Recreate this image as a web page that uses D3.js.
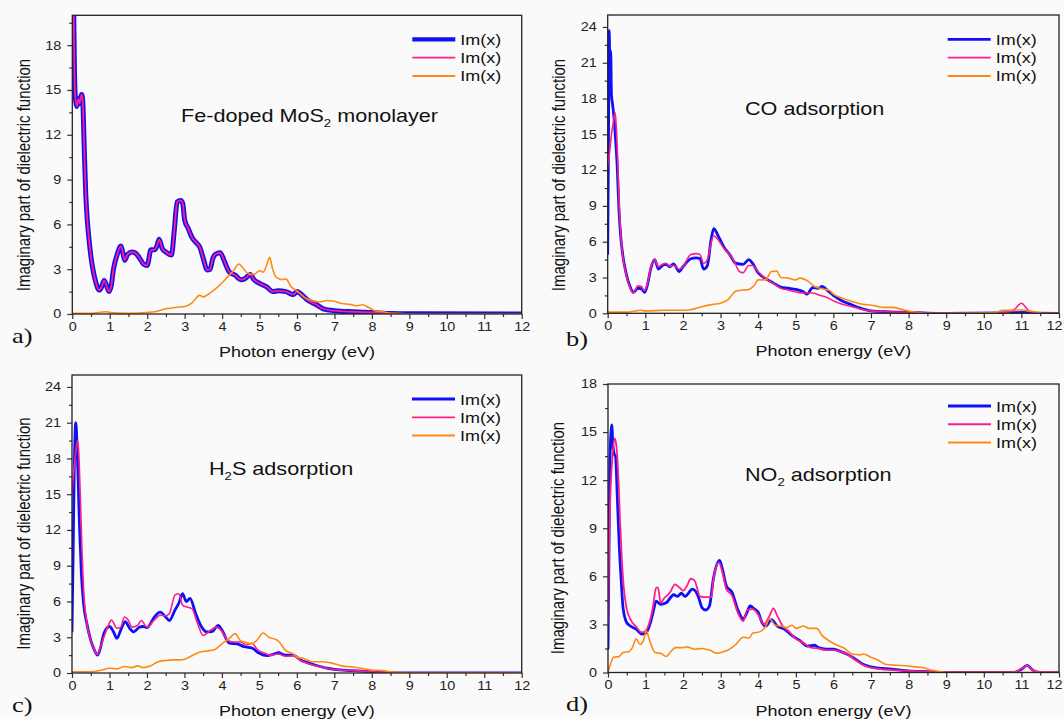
<!DOCTYPE html>
<html><head><meta charset="utf-8">
<script src="https://cdn.jsdelivr.net/npm/d3@7"></script>
<style>
html,body{margin:0;padding:0;background:#fafafa;}
svg{display:block;font-family:Arial,"Liberation Sans",sans-serif;}
</style></head>
<body><svg id="c" width="1064" height="719"></svg>
<script>
// ---- data ----
const xTickValues = [0,1,2,3,4,5,6,7,8,9,10,11,12];
const yTicksA = [0,3,6,9,12,15,18];
const yTicksB = [0,3,6,9,12,15,18,21,24];
const yTicksC = [0,3,6,9,12,15,18,21,24];
const yTicksD = [0,3,6,9,12,15,18];
const legendLabels = ["Im(x)","Im(x)","Im(x)"];
const panelLetters = ["a)","b)","c)","d)"];
const xTitle = "Photon energy (eV)";
const yTitle = "Imaginary part of dielectric function";

const aBlue = [[0,30],[0.03,22],[0.07,15],[0.12,13.9],[0.16,14.4],[0.19,14.1],[0.25,14.7],[0.28,14.2],[0.32,11],[0.36,8],[0.4,6.3],[0.45,4.9],[0.5,3.8],[0.55,3.0],[0.62,2.2],[0.72,1.6],[0.78,1.8],[0.85,2.25],[0.9,2.0],[0.98,1.5],[1.04,1.9],[1.1,3.0],[1.2,4.0],[1.3,4.55],[1.35,4.1],[1.4,3.6],[1.48,4.0],[1.6,4.15],[1.7,4.05],[1.78,3.8],[1.9,3.35],[2.0,3.25],[2.1,4.3],[2.2,4.3],[2.25,4.5],[2.32,5.0],[2.4,4.4],[2.5,4.15],[2.65,3.95],[2.72,5.5],[2.8,7.5],[2.9,7.6],[2.95,7.4],[3.0,6.3],[3.1,5.7],[3.2,5.1],[3.3,4.8],[3.4,4.5],[3.5,3.7],[3.6,2.95],[3.68,3.0],[3.75,3.7],[3.82,4.0],[3.95,4.1],[4.05,3.6],[4.15,3.0],[4.2,2.8],[4.35,2.6],[4.5,2.3],[4.6,2.35],[4.75,2.65],[4.85,2.3],[5.0,2.05],[5.2,1.8],[5.35,1.5],[5.5,1.55],[5.7,1.5],[5.9,1.3],[6.0,1.5],[6.1,1.35],[6.3,0.9],[6.5,0.65],[6.7,0.35],[7.0,0.22],[7.5,0.15],[8.0,0.1],[8.5,0.03],[9.0,0.01],[12,0]];
const aPink = [[0,30],[0.03,22],[0.07,15],[0.12,13.9],[0.16,14.4],[0.19,14.1],[0.25,14.7],[0.28,14.2],[0.32,11],[0.36,8],[0.4,6.3],[0.45,4.9],[0.5,3.8],[0.55,3.0],[0.62,2.2],[0.72,1.6],[0.78,1.8],[0.85,2.25],[0.9,2.0],[0.98,1.5],[1.04,1.9],[1.1,3.0],[1.2,4.0],[1.3,4.55],[1.35,4.1],[1.4,3.6],[1.48,4.0],[1.6,4.15],[1.7,4.05],[1.78,3.8],[1.9,3.35],[2.0,3.25],[2.1,4.3],[2.2,4.3],[2.25,4.5],[2.32,5.0],[2.4,4.4],[2.5,4.15],[2.65,3.95],[2.72,5.5],[2.8,7.5],[2.9,7.6],[2.95,7.4],[3.0,6.3],[3.1,5.7],[3.2,5.1],[3.3,4.8],[3.4,4.5],[3.5,3.7],[3.6,2.95],[3.68,3.0],[3.75,3.7],[3.82,4.0],[3.95,4.1],[4.05,3.6],[4.15,3.0],[4.2,2.8],[4.35,2.6],[4.5,2.3],[4.6,2.35],[4.75,2.65],[4.85,2.3],[5.0,2.05],[5.2,1.8],[5.35,1.5],[5.5,1.55],[5.7,1.5],[5.9,1.3],[6.0,1.5],[6.1,1.35],[6.3,0.9],[6.5,0.65],[6.7,0.35],[7.0,0.22],[7.5,0.15],[8.0,0.1],[8.5,0.03],[9.0,0.01],[12,0]];
const aOrange = [[0,0.05],[0.5,0.05],[0.9,0.15],[1.0,0.1],[1.5,0.05],[2.0,0.1],[2.2,0.15],[2.5,0.35],[2.8,0.45],[3.0,0.5],[3.2,0.75],[3.4,1.25],[3.5,1.15],[3.7,1.45],[3.9,1.85],[4.1,2.35],[4.3,2.9],[4.45,3.35],[4.55,3.1],[4.7,2.7],[4.85,2.65],[5.0,2.9],[5.1,2.8],[5.2,3.35],[5.27,3.8],[5.35,3.0],[5.45,2.45],[5.6,2.3],[5.7,2.35],[5.85,1.8],[6.0,1.55],[6.2,1.1],[6.4,0.9],[6.6,0.8],[6.8,0.9],[7.0,0.85],[7.2,0.7],[7.4,0.65],[7.6,0.55],[7.75,0.62],[7.9,0.45],[8.1,0.2],[8.3,0.15],[8.5,0.05],[8.8,0.03],[9.0,0],[12,0]];

const bBlue = [[0,5],[0.02,14],[0.04,23.7],[0.06,20.5],[0.08,22],[0.1,18.3],[0.13,17.5],[0.17,16.3],[0.2,15],[0.25,12.5],[0.3,8.6],[0.35,6.3],[0.4,4.9],[0.5,3.2],[0.6,2.2],[0.68,1.75],[0.8,2.1],[0.9,2.05],[0.98,1.75],[1.05,2.3],[1.15,3.8],[1.25,4.5],[1.35,3.7],[1.45,4.0],[1.55,4.1],[1.65,3.9],[1.75,4.15],[1.9,3.5],[2.0,3.9],[2.2,4.55],[2.35,4.65],[2.45,4.6],[2.55,3.7],[2.65,4.0],[2.75,6.2],[2.82,7.1],[2.95,6.4],[3.1,5.5],[3.25,4.9],[3.4,4.2],[3.6,4.1],[3.75,4.5],[3.85,4.2],[4.0,3.4],[4.2,2.9],[4.4,2.55],[4.6,2.2],[4.8,2.1],[5.0,2.0],[5.2,1.8],[5.3,1.6],[5.45,2.15],[5.6,2.1],[5.7,2.25],[5.85,1.9],[6.0,1.5],[6.2,1.1],[6.5,0.7],[6.8,0.35],[7.0,0.2],[7.5,0.12],[8.0,0.08],[8.5,0.02],[9,0],[10.5,0.03],[10.8,0.05],[11.0,0.08],[11.3,0.02],[12,0]];
const bPink = [[0,12.3],[0.05,13.5],[0.1,15],[0.15,16],[0.2,16.8],[0.23,15.5],[0.27,12.5],[0.3,9.5],[0.35,6.5],[0.4,4.8],[0.5,3.1],[0.6,2.1],[0.68,1.7],[0.8,2.3],[0.9,2.25],[0.97,1.9],[1.05,2.4],[1.15,3.9],[1.25,4.5],[1.35,3.9],[1.45,4.1],[1.55,4.2],[1.65,3.95],[1.75,4.0],[1.9,3.7],[2.0,3.9],[2.2,4.9],[2.35,5.0],[2.45,4.95],[2.55,4.2],[2.65,4.5],[2.75,5.9],[2.82,6.5],[2.95,6.1],[3.1,5.4],[3.25,4.9],[3.4,4.1],[3.5,3.5],[3.6,3.4],[3.75,4.0],[3.85,4.0],[4.0,3.5],[4.2,2.9],[4.4,2.5],[4.6,2.1],[4.8,1.95],[5.0,1.8],[5.2,1.7],[5.45,1.7],[5.6,1.55],[5.85,1.3],[6.0,1.05],[6.2,0.8],[6.5,0.55],[6.8,0.3],[7.0,0.2],[7.5,0.12],[8.0,0.08],[8.5,0.02],[9,0],[10.5,0.05],[10.8,0.3],[11.0,0.84],[11.2,0.2],[11.4,0.02],[12,0]];
const bOrange = [[0,0.1],[0.5,0.1],[0.9,0.25],[1.0,0.2],[1.5,0.25],[2.0,0.25],[2.2,0.3],[2.5,0.55],[2.8,0.75],[3.0,0.85],[3.2,1.15],[3.4,1.85],[3.6,1.95],[3.75,2.0],[3.9,2.35],[4.0,2.8],[4.2,2.8],[4.35,3.5],[4.5,3.55],[4.6,3.0],[4.8,2.95],[5.0,2.8],[5.1,2.95],[5.3,2.75],[5.5,2.25],[5.7,2.05],[5.9,1.9],[6.0,1.6],[6.2,1.3],[6.5,1.0],[6.8,0.75],[7.0,0.7],[7.3,0.5],[7.6,0.5],[7.8,0.35],[8.0,0.2],[8.3,0.05],[8.5,0],[10.3,0.05],[10.5,0.25],[10.8,0.25],[11.0,0.3],[11.2,0.2],[11.5,0.05],[11.6,0],[12,0]];

const cBlue = [[0,3.5],[0.03,10],[0.06,17],[0.1,21],[0.13,19.5],[0.17,15.5],[0.2,12.3],[0.25,8.4],[0.3,6.1],[0.4,4.1],[0.5,2.75],[0.6,1.9],[0.68,1.5],[0.75,2.0],[0.85,3.3],[1.0,3.9],[1.1,3.5],[1.2,2.9],[1.3,3.6],[1.42,4.3],[1.55,3.7],[1.65,3.45],[1.8,3.85],[1.9,3.9],[2.0,3.8],[2.2,4.7],[2.35,5.1],[2.5,4.7],[2.6,4.4],[2.75,5.3],[2.85,5.85],[2.95,6.65],[3.05,6.0],[3.15,6.25],[3.3,5.0],[3.45,3.9],[3.6,3.45],[3.75,3.5],[3.9,4.0],[4.0,3.6],[4.2,2.5],[4.4,2.45],[4.6,2.2],[4.8,2.1],[5.0,1.65],[5.2,1.45],[5.4,1.6],[5.5,1.7],[5.7,1.5],[5.9,1.5],[6.1,1.1],[6.3,0.85],[6.5,0.65],[6.8,0.4],[7.0,0.3],[7.5,0.2],[8.0,0.1],[8.5,0.02],[9,0],[12,0]];
const cPink = [[0,15],[0.05,17],[0.1,18.5],[0.15,19.5],[0.18,18.5],[0.22,15],[0.27,10],[0.32,6.5],[0.4,4.1],[0.5,2.8],[0.6,1.9],[0.68,1.55],[0.75,2.1],[0.85,3.0],[1.0,4.2],[1.05,4.45],[1.2,3.75],[1.3,3.85],[1.4,4.7],[1.5,4.45],[1.6,3.85],[1.75,4.0],[1.85,4.4],[2.0,3.85],[2.2,4.45],[2.35,4.85],[2.5,4.8],[2.6,5.0],[2.75,6.55],[2.85,6.65],[2.95,5.7],[3.05,5.55],[3.2,5.4],[3.35,4.15],[3.5,3.15],[3.7,3.6],[3.85,3.85],[4.0,3.5],[4.15,2.75],[4.3,2.6],[4.5,2.6],[4.65,2.35],[4.8,2.5],[4.95,1.95],[5.15,1.65],[5.3,1.5],[5.5,1.6],[5.7,1.4],[5.9,1.45],[6.1,1.05],[6.3,0.8],[6.5,0.6],[6.8,0.4],[7.0,0.3],[7.5,0.2],[8.0,0.1],[8.5,0.02],[9,0],[12,0]];
const cOrange = [[0,0.1],[0.5,0.1],[0.8,0.25],[1.0,0.4],[1.2,0.35],[1.4,0.55],[1.6,0.45],[1.75,0.6],[1.9,0.45],[2.1,0.6],[2.3,0.95],[2.5,1.05],[2.7,1.1],[2.9,1.1],[3.0,1.15],[3.2,1.45],[3.4,1.75],[3.6,1.85],[3.8,1.95],[4.0,2.45],[4.2,2.9],[4.35,3.3],[4.5,2.7],[4.6,2.6],[4.8,2.45],[4.95,2.8],[5.1,3.35],[5.25,3.0],[5.4,2.85],[5.5,2.7],[5.7,1.9],[5.9,1.6],[6.0,1.35],[6.2,1.2],[6.4,0.95],[6.7,0.95],[6.9,0.85],[7.2,0.6],[7.5,0.5],[7.8,0.35],[8.0,0.25],[8.3,0.2],[8.5,0.1],[8.8,0.03],[9,0],[12,0]];

const dBlue = [[0,1.5],[0.02,6],[0.05,13],[0.08,15],[0.1,15.45],[0.13,14.2],[0.17,13.6],[0.2,13.5],[0.25,10.8],[0.3,7.9],[0.35,5.8],[0.4,4.05],[0.5,3.1],[0.6,2.9],[0.75,2.7],[0.9,2.4],[1.0,2.45],[1.1,2.9],[1.2,3.75],[1.28,4.45],[1.4,4.25],[1.55,4.35],[1.75,4.85],[1.85,4.75],[1.95,4.95],[2.05,4.75],[2.25,5.2],[2.4,4.75],[2.5,4.05],[2.6,3.9],[2.7,4.15],[2.8,5.8],[2.97,7.0],[3.05,6.4],[3.15,5.4],[3.3,5.0],[3.45,3.95],[3.6,3.35],[3.7,3.75],[3.78,4.15],[3.9,3.95],[4.0,3.75],[4.1,3.1],[4.2,2.9],[4.35,3.3],[4.5,2.9],[4.7,2.7],[4.9,2.3],[5.1,2.0],[5.3,1.65],[5.5,1.7],[5.6,1.55],[5.8,1.45],[6.0,1.45],[6.2,1.3],[6.4,1.1],[6.6,0.8],[6.8,0.5],[7.0,0.35],[7.3,0.25],[7.6,0.2],[8.0,0.1],[8.5,0.05],[9,0],[10.8,0],[11.0,0.2],[11.15,0.45],[11.3,0.15],[11.5,0],[12,0]];
const dPink = [[0,3],[0.03,8],[0.07,11.5],[0.12,13.5],[0.18,14.6],[0.22,14.2],[0.27,12.5],[0.32,9.5],[0.37,7],[0.42,5.3],[0.5,3.95],[0.6,3.3],[0.75,2.85],[0.9,2.5],[1.0,2.6],[1.1,3.1],[1.2,4.15],[1.28,5.3],[1.33,5.3],[1.4,4.35],[1.5,4.65],[1.65,5.0],[1.78,5.5],[1.9,5.3],[2.0,5.1],[2.1,5.4],[2.2,5.85],[2.3,5.75],[2.45,4.75],[2.6,4.7],[2.75,4.7],[2.8,5.7],[2.95,6.85],[3.05,6.2],[3.15,5.2],[3.3,4.8],[3.45,3.75],[3.6,3.2],[3.7,3.9],[3.85,3.95],[4.0,3.6],[4.15,3.0],[4.3,3.55],[4.4,4.0],[4.5,3.55],[4.65,2.9],[4.8,2.6],[5.0,2.1],[5.2,1.85],[5.4,1.55],[5.6,1.5],[5.8,1.4],[6.0,1.4],[6.2,1.3],[6.4,1.1],[6.6,0.75],[6.8,0.45],[7.0,0.3],[7.3,0.2],[7.6,0.15],[8.0,0.1],[8.5,0.05],[9,0.02],[10.8,0.02],[11.0,0.25],[11.15,0.42],[11.3,0.15],[11.5,0.03],[12,0.02]];
const dOrange = [[0,0],[0.05,0.4],[0.15,0.95],[0.3,1.0],[0.4,1.25],[0.55,1.3],[0.65,1.55],[0.75,2.1],[0.85,1.75],[0.95,2.05],[1.02,2.6],[1.1,2.05],[1.25,1.25],[1.4,1.2],[1.55,1.0],[1.65,1.25],[1.8,1.55],[2.0,1.55],[2.1,1.6],[2.3,1.45],[2.5,1.5],[2.7,1.4],[2.9,1.2],[3.0,1.25],[3.2,1.4],[3.4,1.75],[3.6,2.2],[3.75,2.15],[3.85,2.45],[4.05,2.55],[4.2,2.9],[4.3,3.35],[4.45,2.95],[4.6,2.9],[4.75,2.8],[4.9,2.95],[5.0,2.75],[5.2,2.9],[5.35,2.75],[5.55,2.75],[5.7,2.3],[5.9,1.95],[6.1,1.7],[6.3,1.5],[6.5,1.15],[6.7,1.1],[6.8,1.15],[7.0,0.95],[7.2,0.75],[7.4,0.5],[7.7,0.45],[8.0,0.4],[8.2,0.35],[8.4,0.3],[8.6,0.15],[8.8,0.07],[9.0,0],[12,0]];

// ---- layout / style ----
const COLORS = {blue:"#1010f5", pink:"#ff1d8e", orange:"#ff8a12"};
const SX = 1.2; // horizontal text stretch of the original image
const PAGE_W = 1064;

const panels = [
  {id:"a", left:72.3, right:521.7, top:15.3, zero:314, ymax:20, yTicks:yTicksA,
   series:[aBlue,aPink,aOrange], widths:[5,1.8,1.6], legW:[4.2,1.6,2],
   title:["Fe-doped MoS","2"," monolayer"], tx:181, ty:121.5,
   legY:24, letter:[12,343], yLab:[30,175]},
  {id:"b", left:607.7, right:1059, top:15, zero:313.3, ymax:25, yTicks:yTicksB,
   series:[bBlue,bPink,bOrange], widths:[2.8,1.6,1.6], legW:[2.8,1.8,2],
   title:["CO adsorption"], tx:745, ty:115,
   legY:24.3, letter:[566,346], yLab:[564.5,175]},
  {id:"c", left:72, right:521.7, top:375, zero:673, ymax:25, yTicks:yTicksC,
   series:[cBlue,cPink,cOrange], widths:[2.8,1.6,1.6], legW:[2.8,1.8,2],
   title:["H","2","S adsorption"], tx:209, ty:475,
   legY:24, letter:[12,712], yLab:[29.5,533.5]},
  {id:"d", left:608, right:1059, top:384, zero:672.5, ymax:18, yTicks:yTicksD,
   series:[dBlue,dPink,dOrange], widths:[2.8,1.8,1.6], legW:[2.8,2,2],
   title:["NO","2"," adsorption"], tx:745, ty:480.5,
   legY:22, letter:[566,711], yLab:[564,538]}
];
const seriesColors = [COLORS.blue, COLORS.pink, COLORS.orange];

const svg = d3.select("#c");
const defs = svg.append("defs");

panels.forEach((p,i) => {
  const x = d3.scaleLinear().domain([0,12]).range([p.left,p.right]);
  const y = d3.scaleLinear().domain([0,p.ymax]).range([p.zero,p.top]);

  defs.append("clipPath").attr("id","clip"+p.id).append("rect")
    .attr("x",p.left).attr("y",p.top).attr("width",p.right-p.left).attr("height",p.zero-p.top);

  const g = svg.append("g");

  // minor ticks
  const xMinor = d3.range(0.5,12,1);
  const yMinor = d3.range(1.5,p.ymax,3);
  g.append("g").attr("transform",`translate(0,${p.zero})`)
    .call(d3.axisBottom(x).tickValues(xMinor).tickSize(3).tickFormat(""))
    .call(s=>s.select(".domain").remove())
    .call(s=>s.selectAll("line").attr("stroke","#333").attr("stroke-width",1.2));
  g.append("g").attr("transform",`translate(${p.left},0)`)
    .call(d3.axisLeft(y).tickValues(yMinor).tickSize(3).tickFormat(""))
    .call(s=>s.select(".domain").remove())
    .call(s=>s.selectAll("line").attr("stroke","#333").attr("stroke-width",1.2));

  // major axes
  const xa = g.append("g").attr("transform",`translate(0,${p.zero})`)
    .call(d3.axisBottom(x).tickValues(xTickValues).tickSize(5).tickPadding(3).tickFormat(d3.format("d")));
  xa.select(".domain").remove();
  xa.selectAll("line").attr("stroke","#333").attr("stroke-width",1.2);
  xa.selectAll("text").attr("font-size",12).attr("fill","#222")
    .attr("font-family","Arial, 'Liberation Sans', sans-serif")
    .attr("transform",`scale(${SX},1)`)
    .each(function(d){
      // keep the last label inside the page if it would overflow
      if (x(d) + 8*SX > PAGE_W) {
        d3.select(this).attr("text-anchor","end").attr("x",(PAGE_W-2-x(d))/SX);
      }
    });

  const ya = g.append("g").attr("transform",`translate(${p.left},0)`)
    .call(d3.axisLeft(y).tickValues(p.yTicks).tickSize(5).tickPadding(6).tickFormat(d3.format("d")));
  ya.select(".domain").remove();
  ya.selectAll("line").attr("stroke","#333").attr("stroke-width",1.2);
  ya.selectAll("text").attr("font-size",12).attr("fill","#222")
    .attr("font-family","Arial, 'Liberation Sans', sans-serif")
    .attr("x",-11/SX).attr("transform",`scale(${SX},1)`);

  // lines
  const line = d3.line().x(d=>x(d[0])).y(d=>y(d[1])).curve(d3.curveMonotoneX);
  const lg = g.append("g").attr("clip-path",`url(#clip${p.id})`);
  p.series.forEach((s,k) => {
    lg.append("path").datum(s).attr("d",line).attr("fill","none")
      .attr("stroke",seriesColors[k]).attr("stroke-width",p.widths[k])
      .attr("stroke-linejoin","round").attr("stroke-linecap","round");
  });

  // frame
  g.append("rect").attr("x",p.left).attr("y",p.top)
    .attr("width",p.right-p.left).attr("height",p.zero-p.top)
    .attr("fill","none").attr("stroke","#222").attr("stroke-width",1.3);

  // legend
  legendLabels.forEach((lab,k) => {
    const ly = p.top + p.legY + k*18.3;
    g.append("line").attr("x1",p.left+340).attr("x2",p.left+383)
      .attr("y1",ly).attr("y2",ly).attr("stroke",seriesColors[k]).attr("stroke-width",p.legW[k]);
    g.append("text").attr("transform",`translate(${p.left+388},${ly+5.5}) scale(${SX},1)`)
      .attr("font-size",15).attr("fill","#111").text(lab);
  });

  // title with subscript
  const t = g.append("text").attr("transform",`translate(${p.tx},${p.ty}) scale(${SX},1)`)
    .attr("font-size",18).attr("fill","#111");
  t.append("tspan").text(p.title[0]);
  if (p.title.length > 1) {
    t.append("tspan").attr("font-size",11).attr("dy",5).text(p.title[1]);
    t.append("tspan").attr("dy",-5).text(p.title[2]);
  }

  // axis titles
  g.append("text").attr("transform",`translate(${(p.left+p.right)/2},${p.zero+43}) scale(${SX},1)`)
    .attr("text-anchor","middle").attr("font-size",15).attr("fill","#111").text(xTitle);
  g.append("text").attr("transform",`translate(${p.yLab[0]},${p.yLab[1]}) scale(${SX},1) rotate(-90)`)
    .attr("text-anchor","middle").attr("font-size",15).attr("fill","#111").text(yTitle);

  // panel letter
  svg.append("text").attr("transform",`translate(${p.letter[0]},${p.letter[1]}) scale(${SX},1)`)
    .attr("font-family","'Liberation Serif','DejaVu Serif',serif").attr("font-size",22)
    .attr("fill","#111").text(panelLetters[i]);
});
</script></body></html>
